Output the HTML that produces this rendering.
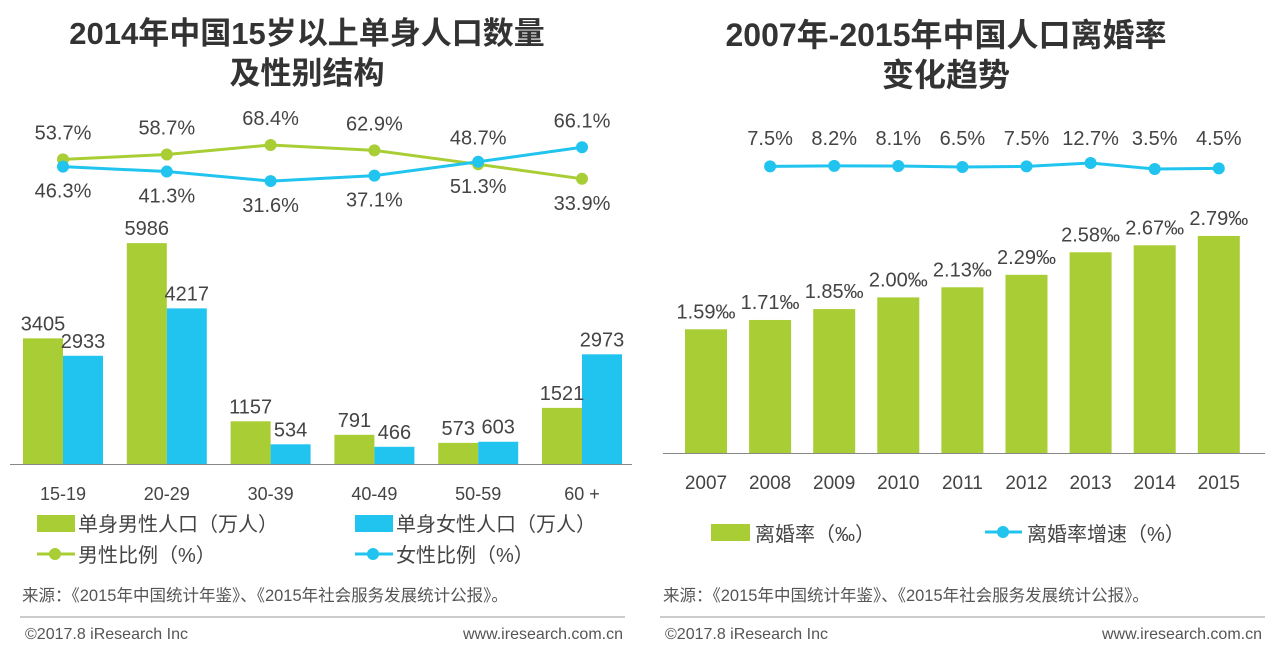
<!DOCTYPE html>
<html><head><meta charset="utf-8"><style>
html,body{margin:0;padding:0;background:#fff;width:1277px;height:652px;overflow:hidden}
svg{display:block;font-family:"Liberation Sans","Noto Sans CJK SC",sans-serif}
</style></head><body>
<svg id="s" width="1277" height="652" viewBox="0 0 1277 652">
<g font-weight="bold" font-size="31" fill="#333" text-anchor="middle">
<text x="307" y="44">2014年中国15岁以上单身人口数量</text>
<text x="307" y="84">及性别结构</text></g>
<g font-weight="bold" font-size="32" fill="#333" text-anchor="middle">
<text x="946" y="46">2007年-2015年中国人口离婚率</text>
<text x="946" y="86">变化趋势</text></g>
<g id="L"></g><g id="R"></g>
<g font-size="20" fill="#444">
<rect x="37" y="515" width="38" height="17" fill="#a9cd35"/><text x="78" y="531">单身男性人口（万人）</text>
<rect x="355" y="515" width="38" height="17" fill="#21c4ee"/><text x="396" y="531">单身女性人口（万人）</text>
<line x1="37" y1="554" x2="75" y2="554" stroke="#a9cd35" stroke-width="3"/><circle cx="55" cy="554" r="6" fill="#a9cd35"/><text x="78" y="562">男性比例（%）</text>
<line x1="355" y1="554" x2="393" y2="554" stroke="#21c4ee" stroke-width="3"/><circle cx="373" cy="554" r="6" fill="#21c4ee"/><text x="396" y="562">女性比例（%）</text></g>
<g font-size="20" fill="#444">
<rect x="711" y="524" width="39" height="17" fill="#a9cd35"/><text x="755" y="541">离婚率（‰）</text>
<line x1="985" y1="532" x2="1022" y2="532" stroke="#21c4ee" stroke-width="3"/><circle cx="1003" cy="532" r="6" fill="#21c4ee"/><text x="1027" y="541">离婚率增速（%）</text></g>
<g fill="#555">
<text x="22" y="601" font-size="16.5">来源：《2015年中国统计年鉴》、《2015年社会服务发展统计公报》。</text>
<text x="663" y="601" font-size="16.5">来源：《2015年中国统计年鉴》、《2015年社会服务发展统计公报》。</text>
<line x1="20" y1="617" x2="625" y2="617" stroke="#999"/><line x1="660" y1="617" x2="1265" y2="617" stroke="#999"/>
<text x="25" y="639" font-size="16">©2017.8 iResearch Inc</text>
<text x="623" y="639" font-size="16" text-anchor="end">www.iresearch.com.cn</text>
<text x="665" y="639" font-size="16">©2017.8 iResearch Inc</text>
<text x="1262" y="639" font-size="16" text-anchor="end">www.iresearch.com.cn</text></g>
</svg>
<script>
const leftCats=["15-19","20-29","30-39","40-49","50-59","60 +"];
const maleCount=[3405,5986,1157,791,573,1521];
const femaleCount=[2933,4217,534,466,603,2973];
const maleRatio=[53.7,58.7,68.4,62.9,48.7,33.9];
const femaleRatio=[46.3,41.3,31.6,37.1,51.3,66.1];
const years=["2007","2008","2009","2010","2011","2012","2013","2014","2015"];
const divorceRate=[1.59,1.71,1.85,2.00,2.13,2.29,2.58,2.67,2.79];
const growthYears=["2008","2009","2010","2011","2012","2013","2014","2015"];
const growthRate=[7.5,8.2,8.1,6.5,7.5,12.7,3.5,4.5];
const NS="http://www.w3.org/2000/svg";
const G="#a9cd35",B="#21c4ee";
function mk(p,t,a,txt){const e=document.createElementNS(NS,t);for(const k in a)e.setAttribute(k,a[k]);if(txt!==undefined)e.textContent=txt;p.appendChild(e);return e;}
const L=document.getElementById('L'),R=document.getElementById('R');
const lx=i=>63+i*103.8, ly=v=>464-v*0.0369, lr=v=>145+(68.4-v)*0.98;
let ax=mk(L,'line',{x1:10,y1:464.5,x2:632,y2:464.5,stroke:"#888"});

leftCats.forEach((c,i)=>{
 let r=mk(L,'rect',{x:lx(i)-40,y:ly(maleCount[i]),width:40,height:464-ly(maleCount[i]),fill:G});
 
 r=mk(L,'rect',{x:lx(i),y:ly(femaleCount[i]),width:40,height:464-ly(femaleCount[i]),fill:B});
 
 let t=mk(L,'text',{x:lx(i)-20,y:ly(maleCount[i])-8,"font-size":20,fill:"#444","text-anchor":"middle"},maleCount[i]);
 
 t=mk(L,'text',{x:lx(i)+20,y:ly(femaleCount[i])-8,"font-size":20,fill:"#444","text-anchor":"middle"},femaleCount[i]);
 
 t=mk(L,'text',{x:lx(i),y:500,"font-size":18,fill:"#444","text-anchor":"middle"},c);
 
});
[[maleRatio,G,'male-ratio',femaleRatio,1],[femaleRatio,B,'female-ratio',maleRatio,0]].forEach(([arr,col,nm,oth,isMale])=>{
 let pl=mk(L,'polyline',{points:arr.map((v,i)=>lx(i)+','+lr(v)).join(' '),fill:"none",stroke:col,"stroke-width":3});
 
 arr.forEach((v,i)=>{
  let c=mk(L,'circle',{cx:lx(i),cy:lr(v),r:6,fill:col});
  
  const above=isMale?(v>=oth[i]-5):(v>oth[i]+5);
  let t=mk(L,'text',{x:lx(i),y:above?lr(v)-20:lr(v)+31,"font-size":20,fill:"#444","text-anchor":"middle"},v.toFixed(1)+"%");
  
 });
});
const rx=i=>706+i*64.1, ry=v=>453-v*77.8, rg=v=>163+(12.7-v)*0.65;
ax=mk(R,'line',{x1:663,y1:453.5,x2:1265,y2:453.5,stroke:"#888"});

years.forEach((y,i)=>{
 let r=mk(R,'rect',{x:rx(i)-21,y:ry(divorceRate[i]),width:42,height:453-ry(divorceRate[i]),fill:G});
 
 let t=mk(R,'text',{x:rx(i),y:ry(divorceRate[i])-11,"font-size":20,fill:"#444","text-anchor":"middle"},divorceRate[i].toFixed(2)+"‰");
 
 t=mk(R,'text',{x:rx(i),y:489,"font-size":19,fill:"#444","text-anchor":"middle"},y);
 
});
const gx=i=>rx(years.indexOf(growthYears[i]));
let pl=mk(R,'polyline',{points:growthRate.map((v,i)=>gx(i)+','+rg(v)).join(' '),fill:"none",stroke:B,"stroke-width":3});

growthRate.forEach((v,i)=>{
 let c=mk(R,'circle',{cx:gx(i),cy:rg(v),r:6,fill:B});
 
 let t=mk(R,'text',{x:gx(i),y:145,"font-size":20,fill:"#444","text-anchor":"middle"},v.toFixed(1)+"%");
 
});
</script>
</body></html>
